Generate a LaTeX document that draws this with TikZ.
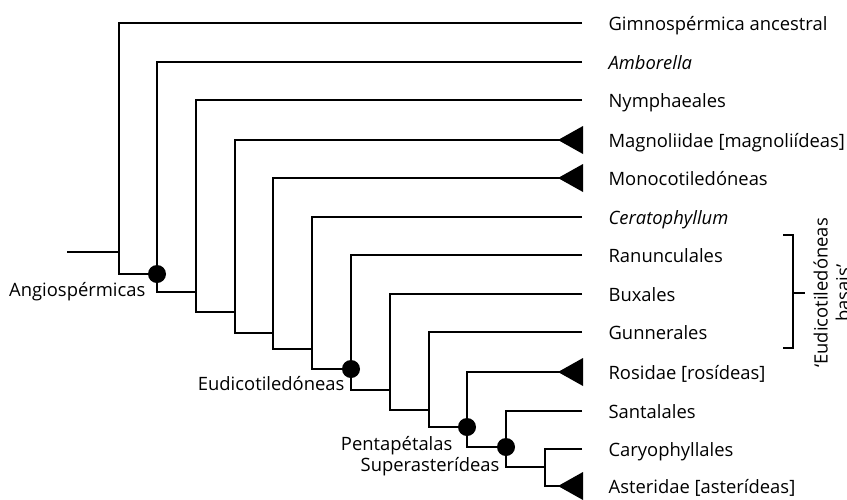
\documentclass[tikz,border=0pt]{standalone}
\usepackage{fontspec}
\setmainfont{Open Sans}
\begin{document}
\begin{tikzpicture}[x=.5pt,y=-.5pt,line width=.6pt,font=\fontsize{9.2}{11}\selectfont,
 taxon/.style={anchor=base west,inner sep=0pt},
 clade/.style={anchor=base east,inner sep=0pt}]
\useasboundingbox (0,0) rectangle (847,499);
\foreach \j/\row/\txt in {1/23/{Gimnospérmica ancestral},2/62/{\textit{Amborella}},3/100/{Nymphaeales},4/140/{Magnoliidae [magnoliídeas]},5/178/{Monocotiledóneas},6/217/{\textit{Ceratophyllum}},7/255/{Ranunculales},8/294/{Buxales},9/332/{Gunnerales},10/372/{Rosidae [rosídeas]},11/411/{Santalales},12/449/{Caryophyllales},13/486/{Asteridae [asterídeas]}}{
 \coordinate (t\j) at (582,\row);
 \node[taxon] (l\j) at (608,\row+7) {\txt};
}
\foreach \k/\px/\py in {1/119/252,2/157/274,3/196/292,4/235/312,5/273/333,6/312/349,7/351/369,8/390/390,9/429/410,10/467/427,11/506/447,12/545/467}
 \coordinate (n\k) at (\px,\py);
\coordinate (root) at (67,252);
\draw (root) -- (n1);
\foreach \k [evaluate=\k as \m using int(\k+1)] in {1,...,11}{\draw (t\k) -| (n\k) |- (n\m);}
\draw (t12) -| (n12) |- (t13);
\foreach \j in {4,5,10,13}{\fill (t\j) ++(-24,0) -- ++(25,-14) -- ++(0,28) -- cycle;}
\foreach \k in {2,7,10,11}{\fill (n\k) circle[radius=4.5pt];}
\node[clade] (angio) at (146,296) {Angiospérmicas};
\node[clade] (eudi) at (345,390) {Eudicotiledóneas};
\node[clade] (penta) at (453,450) {Pentapétalas};
\node[clade] (super) at (500,471) {Superasterídeas};
\coordinate (btop) at (783,235);
\coordinate (bbot) at (783,348);
\coordinate (bmid) at (793,293);
\draw (btop) -| (bmid) |- (bbot);
\draw (bmid) -- ++(12,0);
\node[rotate=90,align=center,anchor=north,inner sep=0pt] (basal) at (813,293) {‘Eudicotiledóneas\\basais’};
\end{tikzpicture}
\end{document}
